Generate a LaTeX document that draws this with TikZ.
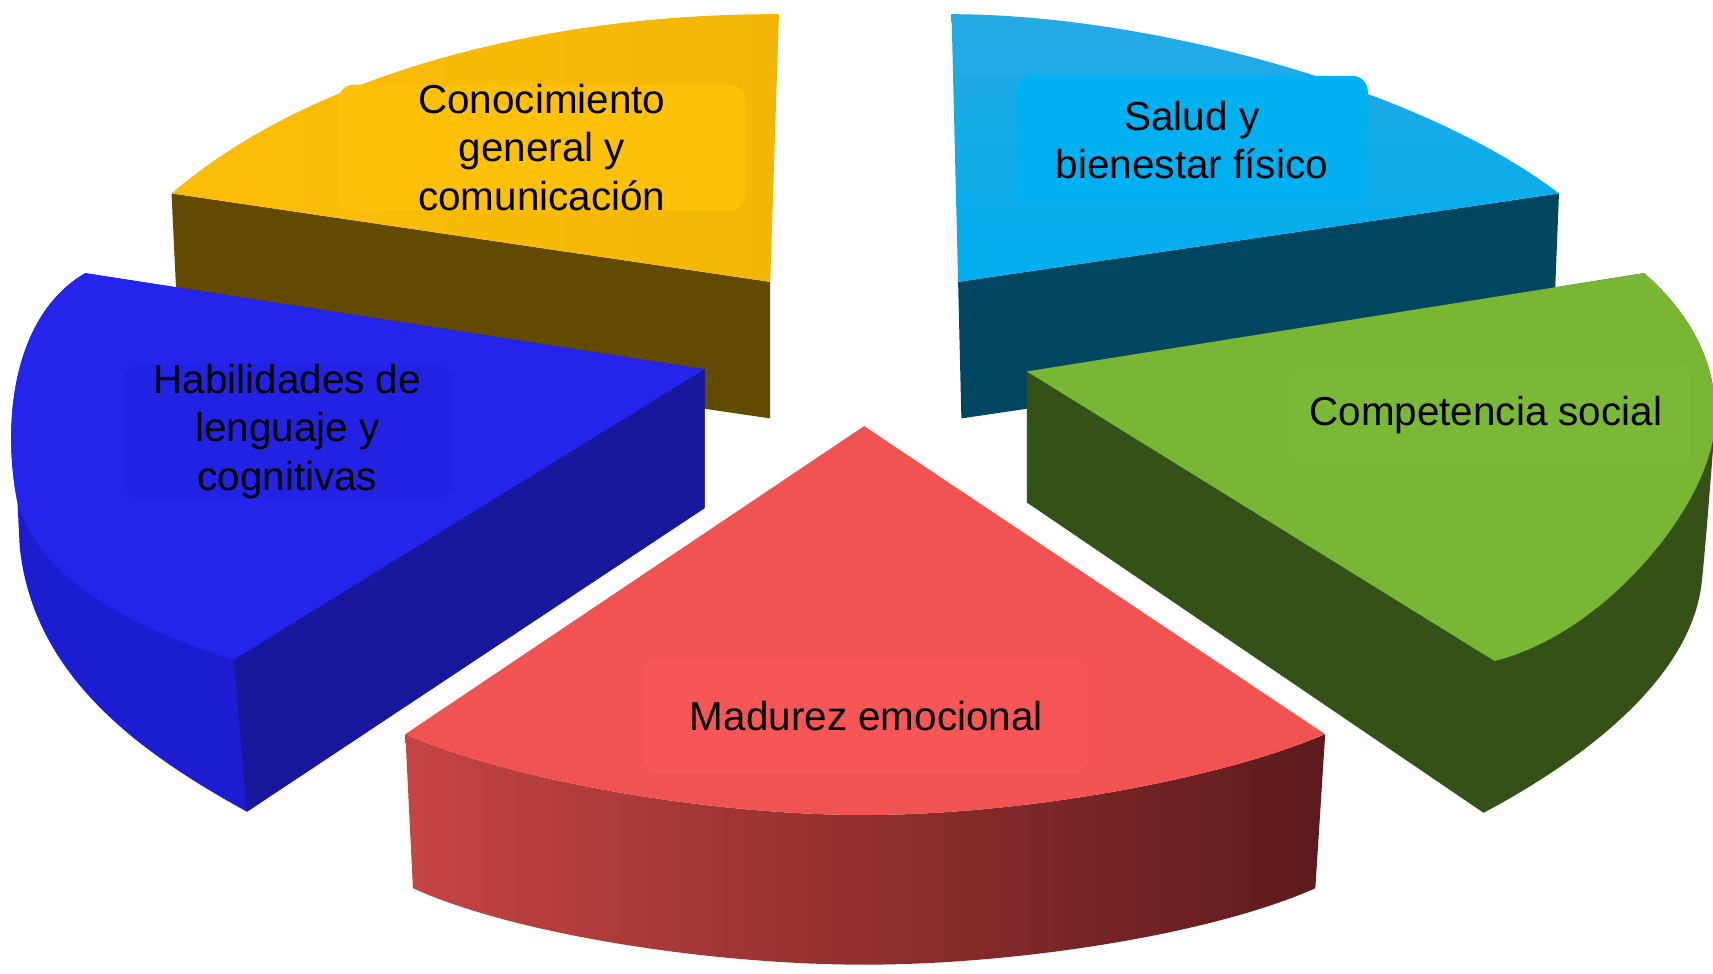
\documentclass[tikz,border=0pt]{standalone}
\usepackage{fontspec}
\setmainfont{Liberation Sans}
\definecolor{ytop}{RGB}{252,190,8}
\definecolor{ytopR}{RGB}{242,183,6}
\definecolor{ybox}{RGB}{255,193,8}
\definecolor{yside}{RGB}{98,75,0}
\definecolor{stopU}{RGB}{38,170,228}
\definecolor{stopL}{RGB}{0,174,238}
\definecolor{sbox}{RGB}{0,176,240}
\definecolor{sside}{RGB}{0,70,96}
\definecolor{htop}{RGB}{36,36,234}
\definecolor{hbox}{RGB}{34,34,228}
\definecolor{hwall}{RGB}{28,28,208}
\definecolor{hside}{RGB}{24,24,156}
\definecolor{gtop}{RGB}{120,182,52}
\definecolor{gbox}{RGB}{122,185,56}
\definecolor{gside}{RGB}{52,82,24}
\definecolor{rtop}{RGB}{241,82,82}
\definecolor{rbox}{RGB}{247,86,86}
\definecolor{rsideL}{RGB}{198,68,68}
\definecolor{rsideM}{RGB}{145,44,44}
\definecolor{rsideR}{RGB}{92,26,28}
\begin{document}
\begin{tikzpicture}[x=0.5pt,y=-0.5pt,
  lbl/.style={rounded corners=7pt, align=center, inner sep=0pt,
    font=\fontsize{18.5}{22}\selectfont, text=black}]
\useasboundingbox (0,0) rectangle (1568,891);
\clip (0,0) rectangle (1568,891);

% ---- Conocimiento (yellow) ----
\fill[yside] (157,177) -- (705,258) -- (705,383) -- (163,303) -- cycle;
\shade[left color=ytop, right color=ytopR]
  (713,13) .. controls (530,12) and (300,55) .. (157,177) -- (705,258) -- cycle;

% ---- Salud (light blue) ----
\fill[sside] (877,258) -- (1427,177) -- (1422,303) -- (880,383) -- cycle;
\shade[top color=stopU, bottom color=stopL]
  (871,13) .. controls (1050,13) and (1300,80) .. (1427,177) -- (877,258) -- cycle;

% ---- Habilidades (blue) ----
\fill[hwall] (78,250) -- (645,338) -- (645,465) -- (226,743)
  .. controls (130,690) and (30,620) .. (18,500) -- (16,460)
  .. controls (2,390) and (10,290) .. (78,250) -- cycle;
\fill[htop] (78,250) -- (645,338) -- (214,604)
  .. controls (140,580) and (40,540) .. (16,460)
  .. controls (2,390) and (10,290) .. (78,250) -- cycle;
\fill[hside] (645,338) -- (645,465) -- (226,743) -- (214,604) -- cycle;

% ---- Competencia social (green) ----
\fill[gside] (940,340) -- (1505,250)
  .. controls (1545,285) and (1572,330) .. (1570,385)
  .. controls (1565,450) and (1562,490) .. (1558,530)
  .. controls (1550,620) and (1450,695) .. (1358,744)
  -- (940,460) -- cycle;
\fill[gtop] (940,340) -- (1505,250)
  .. controls (1545,285) and (1572,330) .. (1570,385)
  .. controls (1568,460) and (1470,580) .. (1368,605) -- cycle;

% ---- Madurez emocional (red) ----
\shade[left color=rsideL, middle color=rsideM, right color=rsideR]
  (371,672) .. controls (470,715) and (650,746) .. (791,746)
  .. controls (932,746) and (1112,715) .. (1213,672)
  -- (1204,813) .. controls (1110,855) and (932,883) .. (791,883)
  .. controls (650,883) and (470,855) .. (378,813) -- cycle;
\fill[rtop] (791,390) -- (371,672) .. controls (470,715) and (650,746) .. (791,746)
  .. controls (932,746) and (1112,715) .. (1213,672) -- cycle;

% ---- labels ----
\node[lbl, fill=ybox, minimum width=186pt, minimum height=53.5pt] (conoc) at (496,135)
  {Conocimiento\\general y\\comunicación};
\node[lbl, fill=sbox, minimum width=161pt, minimum height=58.5pt] (salud) at (1091,128)
  {Salud y\\bienestar físico};
\node[lbl, fill=hbox, minimum width=150pt, minimum height=60pt] (habil) at (263,395)
  {Habilidades de\\lenguaje y\\cognitivas};
\node[lbl, fill=gbox, minimum width=184pt, minimum height=46.5pt] (compe) at (1364,380)
  {\hspace*{-2pt}Competencia social\hspace*{2pt}};
\node[lbl, fill=rbox, minimum width=203.5pt, minimum height=53pt] (madur) at (793,655)
  {Madurez emocional};
\end{tikzpicture}
\end{document}
